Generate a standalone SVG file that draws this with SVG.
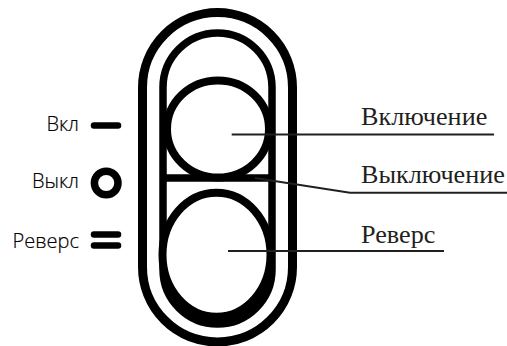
<svg xmlns="http://www.w3.org/2000/svg" width="507" height="346" viewBox="0 0 507 346">
<style>
.s{fill:none;stroke:#000}
.w{fill:#fff;stroke:#000;stroke-width:8}
.l{fill:none;stroke:#231f20;stroke-width:2}
.i{fill:none;stroke:#000;stroke-width:6.500;stroke-linecap:round}
.t{font-family:"Liberation Serif",serif;font-size:26.200px;fill:#231f20}
.k{font-family:"Open Sans","Noto Sans",sans-serif;font-weight:300;font-size:20px;fill:#000;stroke:#000;stroke-width:0.200;text-anchor:end}
</style>
<rect width="507" height="346" fill="#fff"/>
<g id="body">
<rect class="s" x="142.500" y="12.500" width="150" height="329.500" rx="75" ry="75" stroke-width="9"/>
<path d="M163 254V270C163 304 187 324 217 324C248 324 272 304 272 270V254Z" fill="#000"/>
<rect class="s" x="163" y="33" width="109" height="291" rx="54.500" ry="54.500" stroke-width="7.500"/>
<line class="s" x1="163" y1="178" x2="272" y2="178" stroke-width="7.500"/>
</g>
<g id="node-upper"><ellipse class="w" cx="218" cy="129" rx="51" ry="48.500"/></g>
<g id="node-lower"><ellipse class="w" cx="216.500" cy="254.700" rx="54" ry="62"/></g>
<g id="connectors">
<polyline class="l" points="231.700,134.500 494,134.500"/>
<polyline class="l" points="255,178 350,192.700 507,192.700"/>
<polyline class="l" points="228,251 444,251"/>
</g>
<g id="label-on"><text class="t" x="361" y="125">Включение</text></g>
<g id="label-off"><text class="t" x="361" y="183">Выключение</text></g>
<g id="label-rev"><text class="t" x="361" y="242.500">Реверс</text></g>
<g id="key-on"><text class="k" x="79" y="131">Вкл</text><line class="i" x1="94" y1="125.500" x2="118" y2="125.500"/></g>
<g id="key-off"><text class="k" x="79" y="188">Выкл</text><circle class="i" cx="106.200" cy="183" r="11.800" style="stroke-width:7.500"/></g>
<g id="key-rev"><text class="k" x="79" y="248">Реверс</text><line class="i" x1="94" y1="234.500" x2="118" y2="234.500"/><line class="i" x1="94" y1="245.500" x2="118" y2="245.500"/></g>
</svg>
